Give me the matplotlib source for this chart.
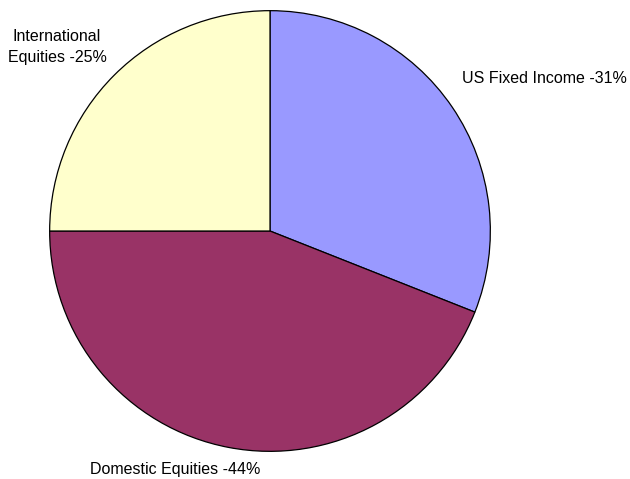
import matplotlib.pyplot as plt

labels = ['US Fixed Income -31%', 'Domestic Equities -44%', 'International\nEquities -25%']
values = [31, 44, 25]
colors = ['#9999FF', '#993366', '#FFFFCC']

W, H = 630, 479
fig = plt.figure(figsize=(W / 100, H / 100), dpi=100)
fig.patch.set_facecolor('white')

# axes box fitted around the circle (pixels: x 49..491, y 10..452)
ax = fig.add_axes([49 / W, 1 - 452 / H, 442 / W, 442 / H])
ax.pie(values, colors=colors, startangle=90, counterclock=False, radius=1,
       wedgeprops=dict(edgecolor='black', linewidth=0.9))
ax.set_xlim(-1.003, 1.003)
ax.set_ylim(-1.003, 1.003)
ax.set_aspect('equal')
ax.axis('off')

font = dict(family=['Liberation Sans', 'DejaVu Sans'], fontsize=11.5, color='black')


def px_text(x, y, s, **kw):
    fig.text(x / W, 1 - y / H, s, **font, **kw)


px_text(462, 83, labels[0], ha='left', va='baseline')
px_text(175, 474, labels[1], ha='center', va='baseline')
px_text(57, 47, labels[2], ha='center', va='center', multialignment='center',
        linespacing=1.45)

fig.savefig('out.png', dpi=100)
